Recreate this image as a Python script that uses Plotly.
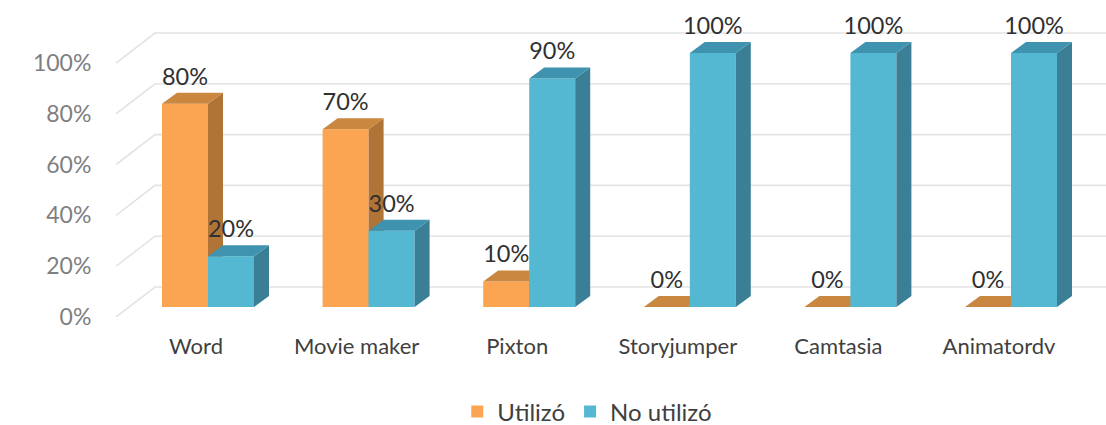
import plotly.graph_objects as go

categories = ["Word", "Movie maker", "Pixton", "Storyjumper", "Camtasia", "Animatordv"]
utilizo = [80, 70, 10, 0, 0, 0]
no_utilizo = [20, 30, 90, 100, 100, 100]
y_ticks = [0, 20, 40, 60, 80, 100]
y_tick_labels = ["0%", "20%", "40%", "60%", "80%", "100%"]

# geometry (plot units: 1 x unit = one category slot, y unit = one percent)
PX_X, PX_Y = 160.6, 2.54
L, B = 116, 108
W, H = 1106 - L, 425 - B
BAR_W = 46 / PX_X
FRONT_X, FRONT_Y = 12 / PX_X, 10 / PX_Y      # bars stand inside the floor
DEPTH_X, DEPTH_Y = 15 / PX_X, 11 / PX_Y      # box depth
BACK_X, BACK_Y = 39 / PX_X, 30 / PX_Y        # back wall
X0 = -80 / PX_X
X1 = X0 + W / PX_X
Y1 = H / PX_Y
LABEL_GAP = 25 / PX_Y
FONT = "Lato"


def box_traces(values, name, front, side, top, shift, xa, ya):
    xs = [i + FRONT_X + shift for i in range(len(values))]
    bar = go.Bar(x=xs, y=values, base=FRONT_Y, width=BAR_W, name=name, offset=0,
                 marker=dict(color=front, line=dict(width=0)), xaxis=xa, yaxis=ya)
    sx, sy, tx, ty = [], [], [], []
    for x, v in zip(xs, values):
        yt = v + FRONT_Y
        r = x + BAR_W
        sx += [r, r + DEPTH_X, r + DEPTH_X, r, None]
        sy += [FRONT_Y, FRONT_Y + DEPTH_Y, yt + DEPTH_Y, yt, None]
        tx += [x, x + DEPTH_X, r + DEPTH_X, r, None]
        ty += [yt, yt + DEPTH_Y, yt + DEPTH_Y, yt, None]
    common = dict(mode="lines", line=dict(width=0), showlegend=False, hoverinfo="skip",
                  fill="toself", xaxis=xa, yaxis=ya)
    return [bar,
            go.Scatter(x=sx, y=sy, fillcolor=side, **common),
            go.Scatter(x=tx, y=ty, fillcolor=top, **common)]


fig = go.Figure()
for t in box_traces(utilizo, "Utilizó", "#FBA552", "#B07436", "#C98740", -BAR_W, "x", "y"):
    fig.add_trace(t)
for t in box_traces(no_utilizo, "No utilizó", "#55B8D2", "#3A7F96", "#3F93AE", 0, "x2", "y2"):
    fig.add_trace(t)

# data labels
lx, ly, lt = [], [], []
for i, (a, b) in enumerate(zip(utilizo, no_utilizo)):
    lx += [i + FRONT_X - BAR_W / 2, i + FRONT_X + BAR_W / 2]
    ly += [a + FRONT_Y + LABEL_GAP, b + FRONT_Y + LABEL_GAP]
    lt += [f"{a}%", f"{b}%"]
fig.add_trace(go.Scatter(x=lx, y=ly, text=lt, mode="text", textposition="middle center",
                         textfont=dict(family=FONT, size=23.5, color="#303030"),
                         showlegend=False, hoverinfo="skip", xaxis="x2", yaxis="y2"))

# slanted 3D gridlines
shapes = []
for v in y_ticks:
    shapes.append(dict(type="path", layer="below", xref="x", yref="y",
                       path=f"M{X0},{v} L{X0 + BACK_X},{v + BACK_Y} L{X1},{v + BACK_Y}",
                       line=dict(color="#E3E3E3", width=1.6)))

fig.update_layout(
    width=1106, height=425, autosize=False,
    margin=dict(l=L, r=0, t=0, b=B, autoexpand=False),
    paper_bgcolor="white", plot_bgcolor="white",
    barmode="overlay", shapes=shapes,
    font=dict(family=FONT, size=22, color="#404040"),
    xaxis=dict(range=[X0, X1], tickvals=list(range(len(categories))), ticktext=categories,
               showgrid=False, zeroline=False, showline=False, ticks="outside", ticklen=10,
               tickcolor="rgba(0,0,0,0)", tickfont=dict(family=FONT, size=22, color="#404040")),
    yaxis=dict(range=[0, Y1], tickvals=y_ticks, ticktext=y_tick_labels,
               showgrid=False, zeroline=False, showline=False, ticks="outside", ticklen=19,
               tickcolor="rgba(0,0,0,0)", tickfont=dict(family=FONT, size=23, color="#7F7F7F")),
    xaxis2=dict(range=[X0, X1], overlaying="x", visible=False),
    yaxis2=dict(range=[0, Y1], overlaying="y", visible=False),
    legend=dict(orientation="h", x=0.476, xanchor="center", y=-0.228, yanchor="top",
                font=dict(family=FONT, size=24, color="#404040"), bgcolor="rgba(0,0,0,0)"),
)

fig.write_html("out.html", config=dict(displayModeBar=False),
               post_script="document.body.style.margin='0';")
